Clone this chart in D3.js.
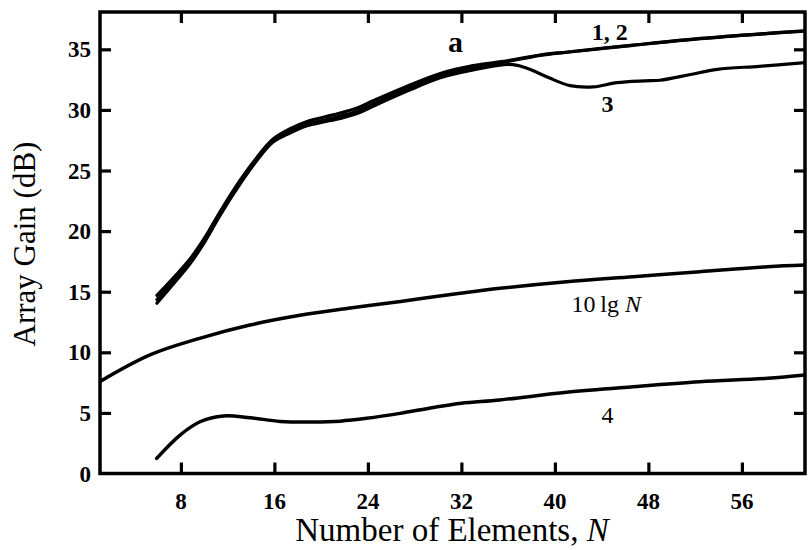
<!DOCTYPE html>
<html>
<head>
<meta charset="utf-8">
<script src="https://cdn.jsdelivr.net/npm/d3@7"></script>
<style>
  html, body { margin: 0; padding: 0; background: #fff; }
  svg { display: block; }
  text { font-family: "Liberation Serif", "Times New Roman", serif; fill: #000; }
</style>
</head>
<body>
<svg id="chart" width="811" height="550"></svg>
<script>
// Number of elements N at which the curves were read
const nBand = [5.95, 7.5, 8.78, 10.07, 11.35, 13.07, 14.52, 15.89, 17.35, 18.8, 20.2, 21.63,
               23.08, 24.45, 27.36, 30.19, 33.0, 35.9, 38.75, 41.06, 46.7, 52.45, 58.16, 61.4];
// Array gain (dB), curve 1
const gain1 = [14.7, 16.3, 17.7, 19.5, 21.6, 24.2, 26.1, 27.6, 28.45, 29.05, 29.4, 29.75,
               30.15, 30.75, 31.95, 33.0, 33.65, 34.05, 34.53, 34.78, 35.35, 35.9, 36.32, 36.53];
// Array gain (dB), curve 2
const gain2 = [14.35, 16.0, 17.45, 19.3, 21.45, 24.05, 26.0, 27.45, 28.25, 28.85, 29.15, 29.5,
               29.9, 30.5, 31.75, 32.85, 33.5, 33.98, 34.5, 34.76, 35.33, 35.88, 36.3, 36.51];
// Curve 3 (drops away from 1, 2 above N ≈ 36)
const n3 = [5.95, 7.5, 8.78, 10.07, 11.35, 13.07, 14.52, 15.89, 17.35, 18.8, 20.2, 21.63,
            23.08, 24.45, 27.36, 30.19, 33.0, 35.9, 36.8, 38.0, 39.5, 41.3, 43.3, 45.3,
            47.7, 49.0, 51.5, 53.9, 57.5, 61.4];
const gain3 = [14.05, 15.8, 17.3, 19.15, 21.3, 23.9, 25.85, 27.35, 28.1, 28.7, 29.0, 29.3,
               29.7, 30.3, 31.55, 32.65, 33.3, 33.75, 33.68, 33.3, 32.65, 32.0, 31.9, 32.25,
               32.4, 32.45, 32.9, 33.35, 33.6, 33.9];
// Reference curve 10 lg N
const nRef = [1.1, 5.4, 9.6, 13.9, 18.2, 22.5, 26.8, 31.9, 35.3, 41.0, 46.7, 52.4, 58.2, 61.4];
const gainRef = [7.6, 9.8, 11.15, 12.25, 13.05, 13.65, 14.2, 14.87, 15.28, 15.83, 16.24, 16.65, 17.06, 17.2];
// Curve 4
const n4 = [5.93, 7.93, 9.64, 11.64, 13.92, 16.49, 19.34, 21.63, 23.9, 26.76, 29.6, 32.0,
            35.3, 41.0, 46.7, 52.4, 58.2, 61.4];
const gain4 = [1.25, 3.17, 4.27, 4.75, 4.6, 4.3, 4.25, 4.32, 4.55, 4.96, 5.45, 5.8,
               6.07, 6.7, 7.16, 7.57, 7.85, 8.13];

const xTicks = [8, 16, 24, 32, 40, 48, 56];
const yTicks = [0, 5, 10, 15, 20, 25, 30, 35];

// Curve labels: [text, N, dB, weight, size]
const curveLabels = [
  ["a", 31.5, 34.8, "bold", 30],
  ["1, 2", 44.7, 35.8, "bold", 24],
  ["3", 44.5, 29.8, "bold", 24],
  ["4", 44.5, 4.2, "normal", 24]
];

const svg = d3.select("#chart");
const L = 100, R = 805, T = 12, B = 473.5;

const x = d3.scaleLinear().domain([1.08, 61.4]).range([L, R]);
const y = d3.scaleLinear().domain([0, 38.08]).range([B, T]);

const line = d3.line()
  .x(d => x(d[0]))
  .y(d => y(d[1]))
  .curve(d3.curveCatmullRom.alpha(0.5));

svg.append("clipPath").attr("id", "plot")
  .append("rect").attr("x", L).attr("y", T).attr("width", R - L).attr("height", B - T);

const curves = svg.append("g").attr("clip-path", "url(#plot)")
  .attr("fill", "none").attr("stroke", "#000").attr("stroke-linecap", "round");

const series = [
  [nBand, gain1, 3.2],
  [nBand, gain2, 3.2],
  [n3, gain3, 3.2],
  [nRef, gainRef, 3.5],
  [n4, gain4, 3.5]
];
series.forEach(([ns, gs, w]) => {
  curves.append("path")
    .attr("d", line(ns.map((n, i) => [n, gs[i]])))
    .attr("stroke-width", w);
});

// Frame and inward ticks on all four sides
const axesG = svg.append("g");
const tickLen = 11;
const axBottom = d3.axisBottom(x).tickValues(xTicks).tickSizeInner(-tickLen).tickSizeOuter(0).tickFormat("");
const axTop = d3.axisTop(x).tickValues(xTicks).tickSizeInner(-tickLen).tickSizeOuter(0).tickFormat("");
const axLeft = d3.axisLeft(y).tickValues(yTicks.filter(v => v > 0)).tickSizeInner(-tickLen).tickSizeOuter(0).tickFormat("");
const axRight = d3.axisRight(y).tickValues(yTicks.filter(v => v > 0)).tickSizeInner(-tickLen).tickSizeOuter(0).tickFormat("");

[[axBottom, `translate(0,${B})`], [axTop, `translate(0,${T})`],
 [axLeft, `translate(${L},0)`], [axRight, `translate(${R},0)`]].forEach(([ax, tr]) => {
  const g = axesG.append("g").attr("transform", tr).call(ax);
  g.select(".domain").remove();
  g.selectAll(".tick line").attr("stroke", "#000").attr("stroke-width", 3.2);
});

axesG.append("rect")
  .attr("x", L).attr("y", T).attr("width", R - L).attr("height", B - T)
  .attr("fill", "none").attr("stroke", "#000").attr("stroke-width", 3.5);

// Tick labels
svg.append("g").selectAll("text").data(xTicks).join("text")
  .attr("x", d => x(d)).attr("y", 509)
  .attr("text-anchor", "middle")
  .attr("font-size", 23).attr("font-weight", "bold")
  .text(d => d);

svg.append("g").selectAll("text").data(yTicks).join("text")
  .attr("x", 91).attr("y", d => y(d)).attr("dy", "0.35em")
  .attr("text-anchor", "end")
  .attr("font-size", 23).attr("font-weight", "bold")
  .text(d => d);

// Axis titles
const xt = svg.append("text")
  .attr("x", 452).attr("y", 541)
  .attr("text-anchor", "middle").attr("font-size", 33);
xt.append("tspan").text("Number of Elements, ");
xt.append("tspan").attr("font-style", "italic").text("N");

svg.append("text")
  .attr("transform", "translate(35,244) rotate(-90)")
  .attr("text-anchor", "middle").attr("font-size", 31)
  .text("Array Gain (dB)");

// Curve labels
curveLabels.forEach(([t, n, g, w, s]) => {
  svg.append("text")
    .attr("x", x(n)).attr("y", y(g))
    .attr("text-anchor", "middle")
    .attr("font-size", s).attr("font-weight", w)
    .text(t);
});

const refLabel = svg.append("text")
  .attr("x", x(44.4)).attr("y", y(13.3))
  .attr("text-anchor", "middle").attr("font-size", 24);
refLabel.append("tspan").text("10\u2009lg ");
refLabel.append("tspan").attr("font-style", "italic").text("N");
</script>
</body>
</html>
